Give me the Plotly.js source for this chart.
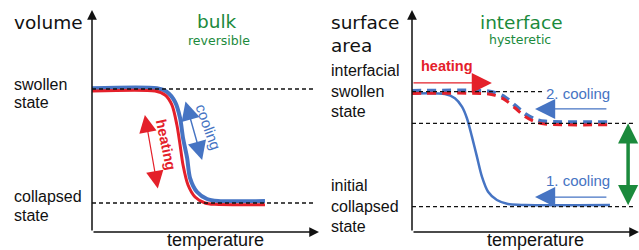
<!DOCTYPE html>
<html>
<head>
<meta charset="utf-8">
<script src="https://cdn.plot.ly/plotly-3.0.1.min.js"></script>
<style>html,body{margin:0;padding:0;background:#fff}#chart{width:639px;height:250px}</style>
</head>
<body>
<div id="chart"></div>
<script>
// ---- data (temperature in arbitrary units 0-100; state normalised: collapsed=0, swollen=1) ----
const bulkT_heat = [0, 27.8, 32.2, 35.2, 37.4, 38.8, 40.1, 42.3, 45.4, 49.8, 54.2, 76.2];
const bulkV_heat = [0.982, 0.982, 0.947, 0.860, 0.684, 0.509, 0.333, 0.158, 0.053, 0.0, -0.012, -0.015];
const bulkT_cool = [0, 28.6, 33.0, 36.6, 38.8, 40.1, 41.9, 43.2, 46.3, 50.7, 55.5, 76.2];
const bulkV_cool = [1.006, 1.006, 0.974, 0.886, 0.746, 0.570, 0.395, 0.219, 0.096, 0.035, 0.018, 0.018];

const ifT_first = [0, 14.5, 18.9, 22.0, 24.2, 26.4, 28.6, 30.8, 33.5, 37.4, 42.3, 49.8, 87.2];
const ifS_first = [0.985, 0.98, 0.943, 0.870, 0.769, 0.609, 0.435, 0.261, 0.130, 0.058, 0.023, 0.015, 0.015];
const ifT_second = [0, 32.2, 36.6, 41.0, 45.4, 49.8, 54.2, 58.6, 86.3];
const ifS_heat2 = [0.985, 0.983, 0.968, 0.929, 0.858, 0.785, 0.738, 0.718, 0.713];
const ifS_cool2 = [1.007, 1.005, 0.990, 0.951, 0.880, 0.807, 0.760, 0.740, 0.735];

const bulkLevels = [1, 0];
const bulkLevelEnd = [97.4, 97.4];
const ifLevels = [1, 0.725, 0];
const ifLevelEnd = [57.7, 97.4, 97.4];

const leftLabels = ["swollen", "state", "collapsed", "state"];
const rightLabels = ["interfacial", "swollen", "state", "initial", "collapsed", "state"];

// ---- styling ----
const W = 639, H = 250;
const RED = "#e4202a", BLUE = "#4674c3", GREEN = "#1b8a3c", INK = "#111111";
const px = x => x / W, py = y => 1 - y / H;

const traces = [];
// bulk
traces.push({x: bulkT_cool, y: bulkV_cool, xaxis: "x", yaxis: "y", mode: "lines",
  line: {color: BLUE, width: 4, shape: "spline", smoothing: 0.8}});
traces.push({x: bulkT_heat, y: bulkV_heat, xaxis: "x", yaxis: "y", mode: "lines",
  line: {color: RED, width: 3, shape: "spline", smoothing: 0.8}});
bulkLevels.forEach((v, i) => traces.push({x: [0, bulkLevelEnd[i]], y: [v, v], xaxis: "x", yaxis: "y",
  mode: "lines", line: {color: INK, width: 1.3, dash: "4px,3px"}}));
// interface
traces.push({x: ifT_first, y: ifS_first, xaxis: "x2", yaxis: "y2", mode: "lines",
  line: {color: BLUE, width: 2.5, shape: "spline", smoothing: 0.8}});
traces.push({x: ifT_second, y: ifS_cool2, xaxis: "x2", yaxis: "y2", mode: "lines",
  line: {color: BLUE, width: 4, shape: "spline", smoothing: 0.8, dash: "9px,6px"}});
traces.push({x: ifT_second, y: ifS_heat2, xaxis: "x2", yaxis: "y2", mode: "lines",
  line: {color: RED, width: 3, shape: "spline", smoothing: 0.8, dash: "9px,6px"}});
ifLevels.forEach((v, i) => traces.push({x: [0, ifLevelEnd[i]], y: [v, v], xaxis: "x2", yaxis: "y2",
  mode: "lines", line: {color: INK, width: 1.3, dash: "4px,3px"}}));

const ann = [];
const arrow = (xr, yr, x0, y0, x1, y1, color, width, size, both) => {
  const a = {xref: xr, yref: yr, axref: xr, ayref: yr, x: x1, y: y1, ax: x0, ay: y0, text: "",
    showarrow: true, arrowhead: 2, arrowsize: size, arrowwidth: width, arrowcolor: color,
    standoff: 0, startstandoff: 0};
  if (both) { a.arrowside = "end+start"; a.startarrowhead = 2; a.startarrowsize = size; }
  ann.push(a);
};
// axes
arrow("x", "y", 0, -0.2544, 0, 1.693, INK, 1.5, 1.3);
arrow("x", "y", 0, -0.2544, 100, -0.2544, INK, 1.5, 1.3);
arrow("x2", "y2", 0, -0.22, 0, 1.7104, INK, 1.5, 1.3);
arrow("x2", "y2", 0, -0.22, 100, -0.22, INK, 1.5, 1.3);
// bulk arrows
arrow("x", "y", 29.1, 0.114, 23.3, 0.772, RED, 1.2, 2.9, true);
arrow("x", "y", 41.0, 0.904, 48.5, 0.377, BLUE, 1.5, 2.5, true);
// interface arrows
arrow("x2", "y2", 0, 1.076, 35.2, 1.076, RED, 1.3, 3.1);
arrow("x2", "y2", 86.3, 0.85, 54.2, 0.85, BLUE, 1.3, 3.1);
arrow("x2", "y2", 86.3, 0.084, 54.2, 0.084, BLUE, 1.3, 3.1);
arrow("x2", "y2", 95.2, 0.0, 95.2, 0.725, GREEN, 3.5, 1.15, true);

const txt = (s, x, y, size, color, family, extra) => ann.push(Object.assign({xref: "paper", yref: "paper",
  x: px(x), y: py(y), text: s, showarrow: false, xanchor: "center", yanchor: "middle",
  font: {size: size, color: color, family: family}}, extra || {}));
const DJ = "DejaVu Sans", LS = "Liberation Sans, Arial, sans-serif";
// titles
txt("bulk", 217, 22, 18.5, GREEN, DJ);
txt("reversible", 219, 40, 12.5, GREEN, DJ);
txt("interface", 521, 23, 18.5, GREEN, DJ);
txt("hysteretic", 520, 39, 12.5, GREEN, DJ);
// axis labels
txt("volume", 12, 23, 18.5, INK, DJ, {xanchor: "left"});
txt("surface", 329, 23, 18.5, INK, DJ, {xanchor: "left"});
txt("area", 329, 46, 18.5, INK, DJ, {xanchor: "left"});
txt("temperature", 215, 240, 18, INK, LS);
txt("temperature", 535, 240, 18, INK, LS);
const leftY = [84, 103, 196, 215];
leftLabels.forEach((s, i) => txt(s, 12, leftY[i], 16, INK, LS, {xanchor: "left"}));
const rightY = [70, 91, 112, 185, 206, 226];
rightLabels.forEach((s, i) => txt(s, 329, rightY[i], 16, INK, LS, {xanchor: "left"}));
// process labels
txt("heating", 166, 145, 14.5, RED, LS, {textangle: 78, font: {size: 14.5, color: RED, family: LS, weight: "bold"}});
txt("cooling", 209, 127, 15, BLUE, LS, {textangle: 70});
txt("heating", 447, 66, 14.5, RED, LS, {font: {size: 14.5, color: RED, family: LS, weight: "bold"}});
txt("2. cooling", 578, 93, 15, BLUE, LS);
txt("1. cooling", 578, 180, 15, BLUE, LS);

const ax = (dom, rng) => ({domain: dom, range: rng, visible: false, fixedrange: true});
const layout = {
  width: W, height: H, margin: {l: 0, r: 0, t: 0, b: 0},
  paper_bgcolor: "#fff", plot_bgcolor: "rgba(0,0,0,0)", showlegend: false, hovermode: false,
  xaxis: ax([92 / W, 319 / W], [0, 100]),
  yaxis: Object.assign(ax([18 / H, 240 / H], [-0.2544, 1.693]), {anchor: "x"}),
  xaxis2: Object.assign(ax([412 / W, 639 / W], [0, 100]), {anchor: "y2"}),
  yaxis2: Object.assign(ax([18 / H, 240 / H], [-0.22, 1.7104]), {anchor: "x2"}),
  annotations: ann
};
Plotly.newPlot("chart", traces, layout, {staticPlot: true, displayModeBar: false});
</script>
</body>
</html>
